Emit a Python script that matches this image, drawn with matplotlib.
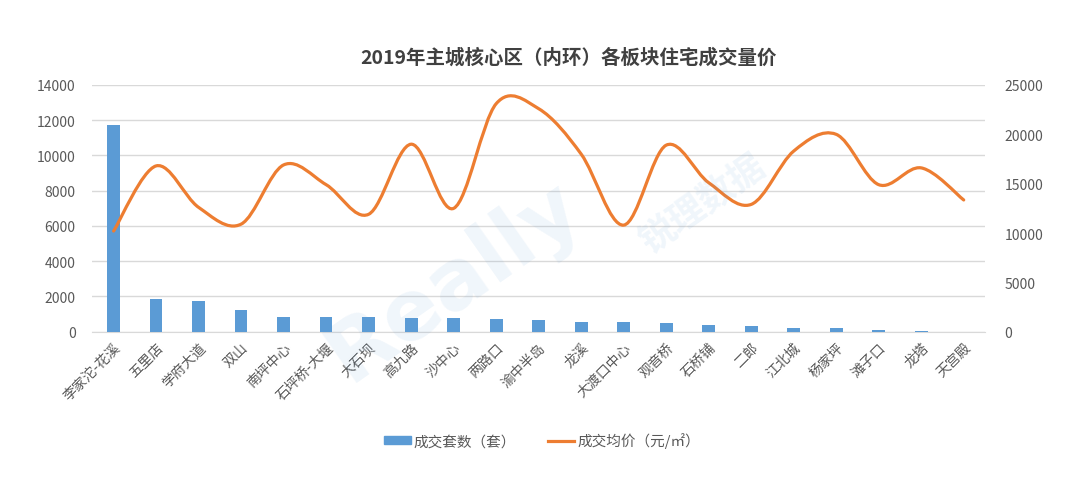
import numpy as np
import matplotlib
matplotlib.use('Agg')
import matplotlib.pyplot as plt
from matplotlib.path import Path
from matplotlib.patches import PathPatch
from matplotlib.lines import Line2D
from matplotlib.patches import Patch

plt.rcParams['font.family'] = ['Noto Sans CJK SC', 'DejaVu Sans']

# Data
areas = ['李家沱-花溪', '五里店', '学府大道', '双山', '南坪中心', '石坪桥-大堰', '大石坝',
         '高九路', '沙中心', '两路口', '渝中半岛', '龙溪', '大渡口中心', '观音桥', '石桥铺',
         '二郎', '江北城', '杨家坪', '滩子口', '龙塔', '天宫殿']
deals = [11710, 1840, 1740, 1210, 830, 830, 830, 780, 780, 740, 680,
         560, 550, 510, 380, 320, 190, 190, 80, 40, 10]
prices = [10200, 16800, 12600, 10900, 16900, 14900, 11900, 19000, 12500, 23100, 22600,
          18000, 10800, 18900, 15100, 12900, 18300, 20000, 14900, 16600, 13350]

blue = '#5B9BD5'
orange = '#ED7D31'
grid_c = '#D9D9D9'
text_c = '#595959'

fig = plt.figure(figsize=(10.8, 4.85), dpi=100)
ax = fig.add_axes([0.0855, 0.314, 0.8265, 0.5087])
ax2 = ax.twinx()

x = np.arange(len(areas))
ax.bar(x, deals, width=0.3, color=blue, zorder=3)
ax.set_xlim(-0.5, len(areas) - 0.5)
ax.set_ylim(0, 14000)
ax.set_yticks(range(0, 14001, 2000))
ax.grid(axis='y', color=grid_c, linewidth=1, zorder=0)
ax.set_axisbelow(True)

# smoothed line (Excel-like), bezier through the data points
pts = np.column_stack([x, prices]).astype(float)
verts = [tuple(pts[0])]
codes = [Path.MOVETO]
n = len(pts)
for i in range(n - 1):
    p0 = pts[i - 1] if i > 0 else pts[i]
    p1 = pts[i]
    p2 = pts[i + 1]
    p3 = pts[i + 2] if i + 2 < n else pts[i + 1]
    c1 = p1 + (p2 - p0) / 6
    c2 = p2 - (p3 - p1) / 6
    verts += [tuple(c1), tuple(c2), tuple(p2)]
    codes += [Path.CURVE4] * 3
ax2.add_patch(PathPatch(Path(verts, codes), facecolor='none', edgecolor=orange,
                        linewidth=2.3, capstyle='round', zorder=4))
ax2.set_ylim(0, 25000)
ax2.set_yticks(range(0, 25001, 5000))

for a in (ax, ax2):
    for s in a.spines.values():
        s.set_visible(False)
    a.tick_params(length=0, labelsize=10, labelcolor=text_c)
ax.spines['bottom'].set_visible(True)
ax.spines['bottom'].set_color(grid_c)
ax.tick_params(axis='y', pad=12)
ax2.tick_params(axis='y', pad=14)

ax.set_xticks(x)
ax.set_xticklabels(areas, rotation=45, ha='right', rotation_mode='anchor', fontsize=10)
ax.tick_params(axis='x', pad=6)

# faint watermark
fig.text(0.42, 0.42, 'Really', fontsize=60, fontweight='bold', color='#5B9BD5',
         alpha=0.09, rotation=35, ha='center', va='center', family='DejaVu Sans')
fig.text(0.65, 0.58, '锐理数据', fontsize=26, fontweight='bold', color='#5B9BD5',
         alpha=0.09, rotation=35, ha='center', va='center')

fig.text(0.526, 0.88, '2019年主城核心区（内环）各板块住宅成交量价', fontsize=14,
         fontweight='bold', color='#404040', ha='center', va='center')

handles = [Patch(color=blue), Line2D([0], [0], color=orange, linewidth=2.3)]
fig.legend(handles, ['成交套数（套）', '成交均价（元/㎡）'], loc='center',
           bbox_to_anchor=(0.502, 0.09), ncol=2, frameon=False, fontsize=10.5,
           labelcolor=text_c, handlelength=1.8, handleheight=0.5, columnspacing=2.2,
           handletextpad=0.2)

fig.savefig('out.png', dpi=100, facecolor='white')
